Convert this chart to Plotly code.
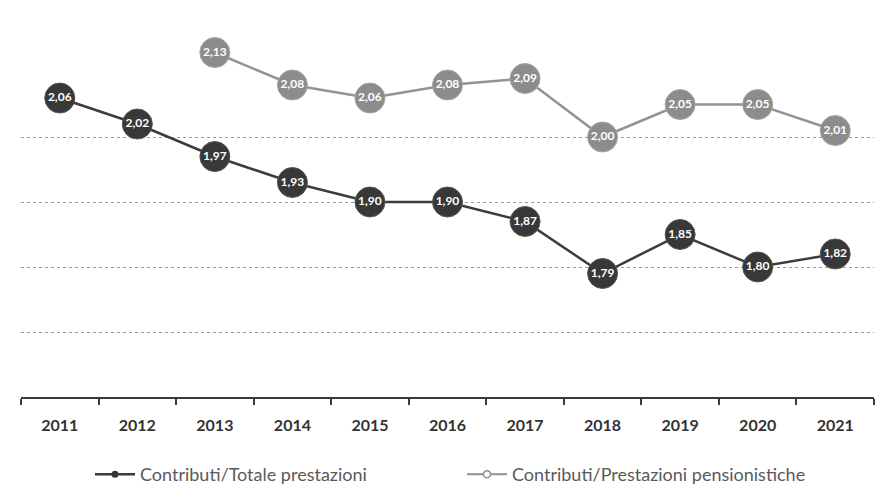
import plotly.graph_objects as go

years = ["2011", "2012", "2013", "2014", "2015", "2016", "2017", "2018", "2019", "2020", "2021"]
totale = [2.06, 2.02, 1.97, 1.93, 1.90, 1.90, 1.87, 1.79, 1.85, 1.80, 1.82]
pensioni = [None, None, 2.13, 2.08, 2.06, 2.08, 2.09, 2.00, 2.05, 2.05, 2.01]
name_tot = "Contributi/Totale prestazioni"
name_pen = "Contributi/Prestazioni pensionistiche"

def fmt(v):
    return "" if v is None else f"{v:.2f}".replace(".", ",")

fig = go.Figure()

fig.add_trace(go.Scatter(
    x=years, y=pensioni, mode="lines+markers+text", showlegend=False,
    line=dict(color="#939393", width=2.5),
    marker=dict(size=30, color="#8c8c8c", line=dict(color="#a5a5a5", width=1)),
    text=[fmt(v) for v in pensioni], textposition="middle center",
    textfont=dict(family="Lato", size=12, color="white", weight="bold"),
    cliponaxis=False,
))
fig.add_trace(go.Scatter(
    x=years, y=totale, mode="lines+markers+text", showlegend=False,
    line=dict(color="#3c3c3c", width=2.5),
    marker=dict(size=30, color="#383838", line=dict(color="#555555", width=1)),
    text=[fmt(v) for v in totale], textposition="middle center",
    textfont=dict(family="Lato", size=12, color="white", weight="bold"),
    cliponaxis=False,
))
# legend entries
fig.add_trace(go.Scatter(
    x=[None], y=[None], mode="lines+markers", name=name_tot,
    line=dict(color="#3c3c3c", width=2.5),
    marker=dict(size=7, color="#363636"),
))
fig.add_trace(go.Scatter(
    x=[None], y=[None], mode="lines+markers", name=name_pen,
    line=dict(color="#8e8e8e", width=2),
    marker=dict(size=7, color="white", line=dict(color="#8e8e8e", width=1.5)),
))

fig.update_layout(
    width=886, height=496,
    margin=dict(l=13, r=20, t=0, b=107, autoexpand=False),
    paper_bgcolor="white", plot_bgcolor="white",
    font=dict(family="Lato", color="#444"),
    legend=dict(orientation="h", x=0.517, xanchor="center", y=-0.152, yanchor="top",
                font=dict(family="Lato", size=18, color="#5a5a5a"),
                itemwidth=40, tracegroupgap=0, entrywidth=317),
)
fig.update_xaxes(
    type="category", range=[-0.5, 10.5],
    showline=True, linecolor="#3a3a3a", linewidth=2,
    ticks="outside", tickson="boundaries", ticklen=6, tickcolor="#3a3a3a", tickwidth=1.5,
    tickfont=dict(family="Lato", size=16, color="#333", weight="bold"),
    showgrid=False, ticklabelstandoff=13,
)
fig.update_yaxes(
    range=[1.6, 2.1985], tickvals=[1.7, 1.8, 1.9, 2.0], showticklabels=False,
    showgrid=True, gridcolor="#9a9a9a", griddash="dot", gridwidth=1,
    zeroline=False, showline=False,
)

fig.write_html("out.html")
